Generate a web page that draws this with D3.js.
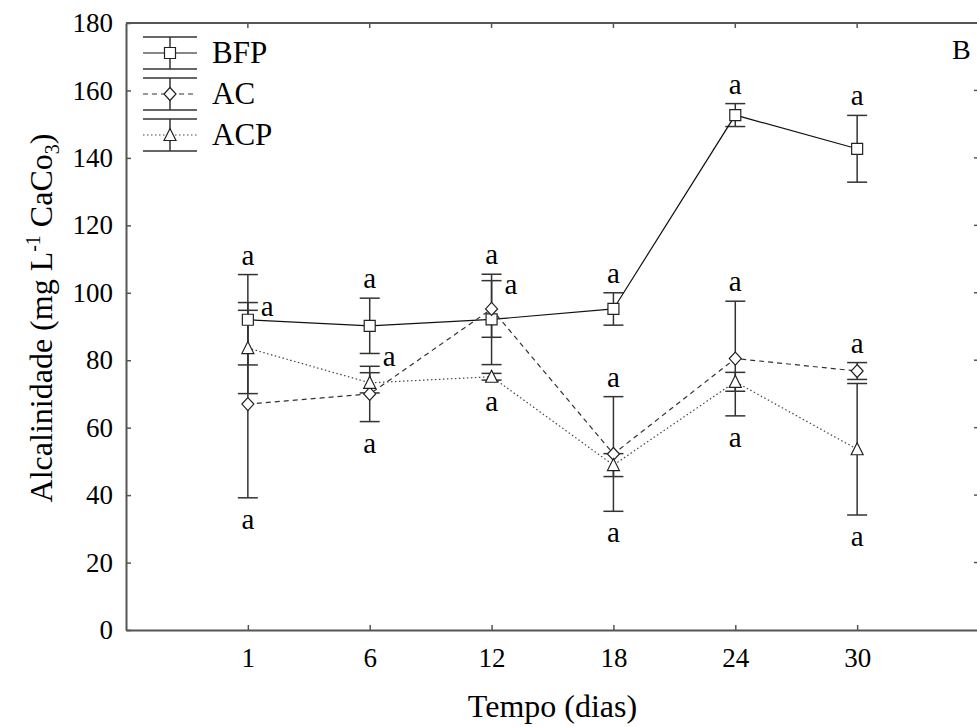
<!DOCTYPE html>
<html>
<head>
<meta charset="utf-8">
<script src="https://cdn.jsdelivr.net/npm/d3@7"></script>
<style>
body { margin: 0; background: #fff; }
text { font-family: "Liberation Serif", "Times New Roman", serif; fill: #000; }
</style>
</head>
<body>
<svg id="chart" width="977" height="727"></svg>
<script>
// values
const days = [1, 6, 12, 18, 24, 30];
const yTicks = [0, 20, 40, 60, 80, 100, 120, 140, 160, 180];
const seriesNames = ['BFP', 'AC', 'ACP'];
const bfpMean = [92, 90.2, 92.1, 95.2, 152.7, 142.7];
const bfpErr = [13.4, 8.2, 13.4, 4.8, 3.4, 9.9];
const acMean = [67, 70, 95.2, 52.2, 80.5, 76.8];
const acErr = [27.8, 8.2, 8.4, 17, 17, 2.5];
const acpMean = [83.6, 73.3, 75.1, 48.9, 73.6, 53.6];
const acpErr = [13.5, 3, 1, 3.4, 2.8, 19.5];
const bfpLetters = ['a', 'a', 'a', 'a', 'a', 'a'];
const acLetters = ['a', 'a', 'a', 'a', 'a', 'a'];
const acpLetters = ['a', 'a', 'a', 'a', 'a', 'a'];
const panelLabel = 'B';

const margin = {top: 23, right: -2, bottom: 97, left: 126};
const width = 977, height = 727;
const svg = d3.select('#chart');

const x = d3.scalePoint()
    .domain(days)
    .range([margin.left, width - margin.right])
    .padding(1);
const y = d3.scaleLinear()
    .domain([0, 180])
    .range([height - margin.bottom, margin.top]);

const axisColor = '#555';
const barColor = '#333';

const series = [
    {name: 'BFP', mean: bfpMean, err: bfpErr, letters: bfpLetters, dash: null, stroke: '#111', marker: 'square'},
    {name: 'AC', mean: acMean, err: acErr, letters: acLetters, dash: '5,4', stroke: '#333', marker: 'diamond'},
    {name: 'ACP', mean: acpMean, err: acpErr, letters: acpLetters, dash: '1.5,2.5', stroke: '#444', marker: 'triangle'}
];

function markerPath(type) {
    if (type === 'square') return 'M-5.5,-5.5H5.5V5.5H-5.5Z';
    if (type === 'diamond') return 'M0,-6.5L6,0L0,6.5L-6,0Z';
    return 'M0,-6.5L6,5.5H-6Z';
}

// frame (top + right), ticks pointing inward
svg.append('path')
    .attr('d', `M${margin.left},${margin.top}H${width - margin.right}V${height - margin.bottom}`)
    .attr('fill', 'none')
    .attr('stroke', axisColor)
    .attr('stroke-width', 2);

svg.append('g')
    .selectAll('line')
    .data(days)
    .join('line')
    .attr('x1', d => x(d)).attr('x2', d => x(d))
    .attr('y1', margin.top).attr('y2', margin.top + 5)
    .attr('stroke', axisColor).attr('stroke-width', 1.5);

svg.append('g')
    .selectAll('line')
    .data(yTicks.slice(1, -1))
    .join('line')
    .attr('x1', width - margin.right - 5).attr('x2', width - margin.right)
    .attr('y1', d => y(d)).attr('y2', d => y(d))
    .attr('stroke', axisColor).attr('stroke-width', 1.5);

// axes
const yAxis = svg.append('g')
    .attr('transform', `translate(${margin.left},0)`)
    .call(d3.axisLeft(y).tickValues(yTicks).tickSizeInner(-5).tickSizeOuter(0).tickPadding(13));
const xAxis = svg.append('g')
    .attr('transform', `translate(0,${height - margin.bottom})`)
    .call(d3.axisBottom(x).tickSizeInner(-5).tickSizeOuter(0).tickPadding(18));

[yAxis, xAxis].forEach(g => {
    g.attr('font-family', null).attr('font-size', 27);
    g.select('.domain').attr('stroke', axisColor).attr('stroke-width', 2);
    g.selectAll('.tick line').attr('stroke', axisColor).attr('stroke-width', 1.5);
    g.selectAll('.tick text').attr('fill', '#000');
});

// axis titles
svg.append('text')
    .attr('x', (margin.left + width - margin.right) / 2)
    .attr('y', 717)
    .attr('text-anchor', 'middle')
    .attr('font-size', 32)
    .text('Tempo (dias)');

const yTitle = svg.append('text')
    .attr('transform', 'translate(52,318) rotate(-90)')
    .attr('text-anchor', 'middle')
    .attr('font-size', 32);
yTitle.append('tspan').text('Alcalinidade (mg L');
yTitle.append('tspan').attr('font-size', 20).attr('dy', -12).text('-1');
yTitle.append('tspan').attr('dy', 12).text(' CaCo');
yTitle.append('tspan').attr('font-size', 20).attr('dy', 7).text('3');
yTitle.append('tspan').attr('dy', -7).text(')');

svg.append('text')
    .attr('x', 952).attr('y', 59)
    .attr('font-size', 28)
    .text(panelLabel);

// error bars
const capHalf = 10;
series.forEach(s => {
    const g = svg.append('g').attr('stroke', barColor).attr('stroke-width', 1.5);
    days.forEach((d, i) => {
        const top = y(s.mean[i] + s.err[i]);
        const bot = y(s.mean[i] - s.err[i]);
        g.append('line').attr('x1', x(d)).attr('x2', x(d)).attr('y1', top).attr('y2', bot);
        g.append('line').attr('x1', x(d) - capHalf).attr('x2', x(d) + capHalf).attr('y1', top).attr('y2', top);
        g.append('line').attr('x1', x(d) - capHalf).attr('x2', x(d) + capHalf).attr('y1', bot).attr('y2', bot);
    });
});

// lines
const line = d3.line().x((v, i) => x(days[i])).y(v => y(v));
series.forEach(s => {
    svg.append('path')
        .attr('d', line(s.mean))
        .attr('fill', 'none')
        .attr('stroke', s.stroke)
        .attr('stroke-width', 1.2)
        .attr('stroke-dasharray', s.dash);
});

// markers
series.forEach(s => {
    svg.append('g')
        .selectAll('path')
        .data(s.mean)
        .join('path')
        .attr('transform', (v, i) => `translate(${x(days[i])},${y(v)})`)
        .attr('d', markerPath(s.marker))
        .attr('fill', '#fff')
        .attr('stroke', '#222')
        .attr('stroke-width', 1.2);
});

// significance letters: which series / which end each one sits at
const letterSpots = [
    [['BFP', 'top', 'above'], ['ACP', 'top', 'right'], ['AC', 'bottom', 'below']],
    [['BFP', 'top', 'above'], ['BFP', 'bottom', 'right'], ['AC', 'bottom', 'below']],
    [['BFP', 'top', 'above'], ['AC', 'top', 'right'], ['ACP', 'bottom', 'below']],
    [['BFP', 'top', 'above'], ['AC', 'top', 'above'], ['AC', 'bottom', 'below']],
    [['BFP', 'top', 'above'], ['AC', 'top', 'above'], ['AC', 'bottom', 'below']],
    [['BFP', 'top', 'above'], ['AC', 'top', 'above'], ['ACP', 'bottom', 'below']]
];
const letterG = svg.append('g').attr('font-size', 29);
letterSpots.forEach((spots, i) => {
    spots.forEach(([name, end, side]) => {
        const s = series.find(t => t.name === name);
        const v = end === 'top' ? s.mean[i] + s.err[i] : s.mean[i] - s.err[i];
        const cy = y(v);
        const t = letterG.append('text').text(s.letters[i]);
        if (side === 'above') t.attr('x', x(days[i])).attr('y', cy - 10).attr('text-anchor', 'middle');
        else if (side === 'below') t.attr('x', x(days[i])).attr('y', cy + 31).attr('text-anchor', 'middle');
        else t.attr('x', x(days[i]) + 13).attr('y', cy + 13);
    });
});

// legend
const legend = svg.append('g').attr('transform', 'translate(143,53)');
series.forEach((s, i) => {
    const g = legend.append('g').attr('transform', `translate(0,${i * 41})`);
    g.append('line').attr('x1', 0).attr('x2', 54).attr('y1', 0).attr('y2', 0)
        .attr('stroke', s.stroke).attr('stroke-width', 1.2).attr('stroke-dasharray', s.dash);
    const eb = g.append('g').attr('stroke', barColor).attr('stroke-width', 1.5);
    eb.append('line').attr('x1', 27).attr('x2', 27).attr('y1', -16).attr('y2', 16);
    eb.append('line').attr('x1', 0).attr('x2', 54).attr('y1', -16).attr('y2', -16);
    eb.append('line').attr('x1', 0).attr('x2', 54).attr('y1', 16).attr('y2', 16);
    g.append('path').attr('transform', 'translate(27,0)').attr('d', markerPath(s.marker))
        .attr('fill', '#fff').attr('stroke', '#222').attr('stroke-width', 1.2);
    g.append('text').attr('x', 69).attr('y', 10).attr('font-size', 31).text(seriesNames[i]);
});
</script>
</body>
</html>
